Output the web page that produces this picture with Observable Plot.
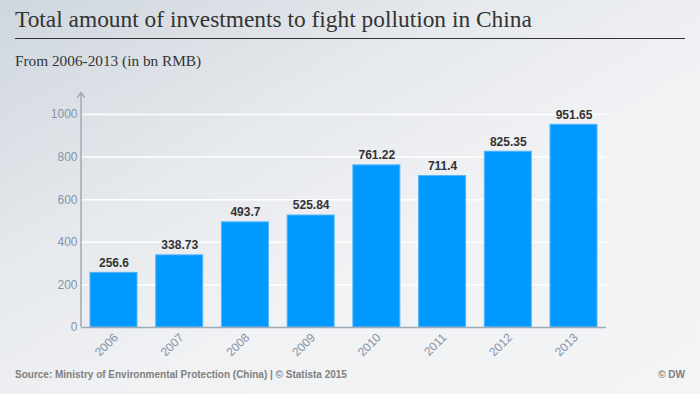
<!DOCTYPE html>
<html><head><meta charset="utf-8">
<script src="https://cdn.jsdelivr.net/npm/d3@7"></script>
<script src="https://cdn.jsdelivr.net/npm/@observablehq/plot@0.6"></script>
<style>
html,body{margin:0;padding:0;}
body{width:700px;height:394px;position:relative;overflow:hidden;
 background:linear-gradient(to bottom right,#cfd6de 0%,#e6e9ed 35%,#f1f2f4 60%,#f3f4f6 100%);}
#title{position:absolute;left:15px;top:6px;font-family:"Liberation Serif","Times New Roman",serif;font-size:23.4px;color:#333;white-space:nowrap;}
#rule{position:absolute;left:15px;top:38px;width:670px;height:0;border-top:1.5px solid #333;}
#sub{position:absolute;left:15px;top:52px;font-family:"Liberation Serif","Times New Roman",serif;font-size:15.3px;color:#333;white-space:nowrap;}
#chart{position:absolute;left:0;top:80px;}
.foot{position:absolute;top:369px;font-family:"Liberation Sans",Arial,sans-serif;font-size:10px;font-weight:bold;color:#808080;white-space:nowrap;}
#src{left:15px;}
#dw{right:15px;}
</style></head>
<body>
<div id="title">Total amount of investments to fight pollution in China</div>
<div id="rule"></div>
<div id="sub">From 2006-2013 (in bn RMB)</div>
<div id="chart"></div>
<div class="foot" id="src">Source: Ministry of Environmental Protection (China) | © Statista 2015</div>
<div class="foot" id="dw">© DW</div>
<script>
const years = ["2006","2007","2008","2009","2010","2011","2012","2013"];
const values = [256.6, 338.73, 493.7, 525.84, 761.22, 711.4, 825.35, 951.65];
const valueLabels = ["256.6","338.73","493.7","525.84","761.22","711.4","825.35","951.65"];
const yTicks = [0, 200, 400, 600, 800, 1000];
const gridTicks = [200, 400, 600, 800, 1000];
const axisTop = 1100;

const data = years.map((y, i) => ({year: y, value: values[i], label: valueLabels[i]}));

const yAxisLine = (index, scales, values, dimensions) => {
  const x = dimensions.marginLeft;
  const y0 = scales.y(0), y1 = scales.y(axisTop);
  const g = document.createElementNS("http://www.w3.org/2000/svg", "g");
  g.setAttribute("fill", "none");
  g.setAttribute("stroke", "#9eabb8");
  g.setAttribute("stroke-width", "1.5");
  const p = document.createElementNS("http://www.w3.org/2000/svg", "path");
  p.setAttribute("d", `M${x},${y0}V${y1}M${x-4},${y1+5}L${x},${y1}L${x+4},${y1+5}`);
  g.appendChild(p);
  return g;
};

const chart = Plot.plot({
  width: 700, height: 290,
  marginLeft: 81, marginRight: 94, marginTop: 34, marginBottom: 43,
  style: {background: "transparent", fontFamily: "'Liberation Sans', Arial, sans-serif", overflow: "visible"},
  x: {domain: years, paddingInner: 0.285, paddingOuter: 0.137, round: false, label: null},
  y: {domain: [0, 1000], label: null},
  marks: [
    Plot.gridY(gridTicks, {stroke: "#ffffff", strokeOpacity: 1, strokeWidth: 1.5}),
    Plot.barY(data, {x: "year", y: "value", fill: "#0099ff", stroke: "#55b6f7", strokeWidth: 1}),
    Plot.ruleY([0], {stroke: "#9eabb8", strokeWidth: 1.5}),
    yAxisLine,
    Plot.text(data, {x: "year", y: "value", text: "label", dy: -10, fontWeight: "bold", fontSize: 12, fill: "#333333"}),
    Plot.axisY(yTicks, {tickSize: 0, tickPadding: 4, fontSize: 12, fill: "#8494a9", label: null, tickFormat: d => String(d)}),
    Plot.axisX({tickSize: 0, tickRotate: -45, tickPadding: 8, fontSize: 12, fill: "#8494a9", label: null, dx: 2})
  ]
});
document.getElementById("chart").appendChild(chart);
</script>
</body></html>
